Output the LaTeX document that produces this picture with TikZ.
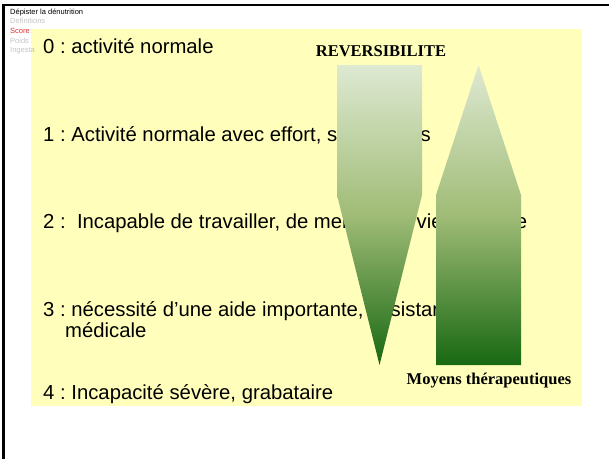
\documentclass[tikz,border=0pt]{standalone}
\usepackage{fontspec}
\setmainfont{Liberation Sans}
\newfontfamily\titlefont{Liberation Serif}
\usetikzlibrary{positioning}
\definecolor{slideyellow}{RGB}{255,255,187}
\definecolor{navgrey}{RGB}{195,195,195}
\definecolor{navred}{RGB}{228,45,45}
\definecolor{greenlight}{RGB}{222,233,210}
\definecolor{greenmid}{RGB}{160,188,118}
\definecolor{greendark}{RGB}{24,104,18}
\tikzset{
	navitem/.style={inner sep=0pt, text height=5.5pt, text depth=1.7pt,
		font=\fontsize{7.5}{9}\selectfont},
	scoreline/.style={inner sep=0pt, anchor=base west,
		font=\fontsize{20.3}{24}\selectfont},
	arrowlabel/.style={inner sep=0pt, anchor=base,
		font=\titlefont\bfseries\fontsize{16.5}{20}\selectfont},
	gradarrow/.style={top color=greenlight, bottom color=greendark,
		middle color=greenmid}
}
\frenchspacing

\begin{document}
\begin{tikzpicture}[x=1pt,y=-1pt]
  \useasboundingbox (0,0) rectangle (609,459);
  % slide frame and background
  \draw[line width=2.5pt] (3.5,459) -- (3.5,5) -- (609,5);
  \fill[slideyellow] (31,29) rectangle (582,406);
  % navigation
  \node [navitem, anchor=base west] (navA) at (10,14.3) {Dépister la dénutrition};
  \node [navitem, below=2pt of navA.south west, anchor=north west, navgrey] (navB) {Definitions};
  \node [navitem, below=2pt of navB.south west, anchor=north west, navred] (navC) {Score};
  \node [navitem, below=2pt of navC.south west, anchor=north west, navgrey] (navD) {Poids};
  \node [navitem, below=2pt of navD.south west, anchor=north west, navgrey] (navE) {Ingesta};
  % score lines
  \node [scoreline] (score0) at (43,53) {0 : activité normale};
  \node [scoreline] (score1) at (43,141) {1 : Activité normale avec effort, symptômes};
  \node [scoreline] (score2) at (43,228) {2 :\ \ Incapable de travailler, de mener une vie courante};
  \node [scoreline] (score3) at (43,316) {3 : nécessité d’une aide importante, assistance};
  \node [scoreline] (score3b) at (65,337) {médicale};
  \node [scoreline] (score4) at (43,399) {4 : Incapacité sévère, grabataire};
  % arrows
  \shade[gradarrow] (337,65) -- (422,65) -- (422,195) -- (379.5,365) -- (337,195) -- cycle;
  \shade[gradarrow] (478.5,65) -- (521,195) -- (521,365) -- (436,365) -- (436,195) -- cycle;
  \node [arrowlabel] (revlabel) at (381,56) {REVERSIBILITE};
  \node [arrowlabel] (meanslabel) at (489,384) {Moyens thérapeutiques};
\end{tikzpicture}
\end{document}
